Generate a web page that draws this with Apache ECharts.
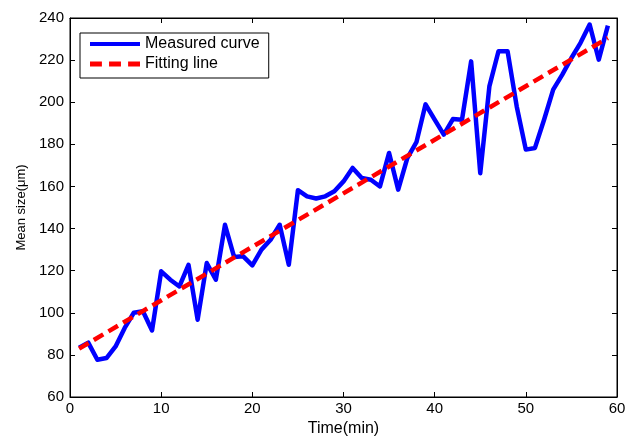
<!DOCTYPE html>
<html>
<head>
<meta charset="utf-8">
<script src="https://cdn.jsdelivr.net/npm/echarts@6/dist/echarts.min.js"></script>
<style>
  html, body { margin: 0; padding: 0; background: #fff; }
  #chart { width: 626px; height: 436px; }
</style>
</head>
<body>
<div id="chart"></div>
<script>
// time in minutes
const times = [1, 2, 3, 4, 5, 6, 7, 8, 9, 10, 11, 12, 13, 14, 15, 16, 17, 18, 19, 20,
  21, 22, 23, 24, 25, 26, 27, 28, 29, 30, 31, 32, 33, 34, 35, 36, 37, 38, 39, 40,
  41, 42, 43, 44, 45, 46, 47, 48, 49, 50, 51, 52, 53, 54, 55, 56, 57, 58, 59]
// measured mean size (um)
const measured = [83.4, 85.8, 77.7, 78.5, 84, 92.8, 100, 100.7, 91.6, 119.7,
  115.7, 112.5, 122.8, 96.7, 123.6, 115.7, 141.8, 126.5, 126.8, 122.5,
  130, 134.7, 141.8, 122.8, 158.2, 155.3, 154.3, 155.3, 157.7, 162.4,
  168.8, 164, 163.2, 160, 175.9, 158.5, 173.5, 181, 199, 191.7,
  184.6, 192, 191.7, 219.4, 166.3, 207.5, 224.2, 224.2, 198, 177.5,
  178.3, 191.7, 206, 213.1, 221, 228.2, 236.9, 220.2, 236.4]
// fitting line end points
const fitTimes = [1, 59]
const fitValues = [83, 230.5]

const xTicks = [0, 10, 20, 30, 40, 50, 60]
const yTicks = [60, 80, 100, 120, 140, 160, 180, 200, 220, 240]

const chart = echarts.init(document.getElementById('chart'))

const font = 'Liberation Sans, Arial, sans-serif'
const axisCommon = {
  type: 'value',
  splitLine: { show: false },
  axisLine: { show: true, onZero: false, lineStyle: { color: '#000', width: 1 } },
  axisTick: { show: true, inside: true, length: 5, lineStyle: { color: '#000' } }
}

const option = {
  animation: false,
  backgroundColor: '#fff',
  grid: {
    left: 70, right: 9, top: 18, bottom: 39,
    outerBoundsMode: 'none',
    show: true, borderColor: '#000', borderWidth: 1
  },
  legend: {
    left: 80, top: 33,
    orient: 'vertical',
    itemWidth: 50, itemHeight: 10, itemGap: 4,
    padding: [3, 9, 6, 10],
    borderColor: '#000', borderWidth: 1, borderRadius: 0,
    backgroundColor: '#fff',
    textStyle: { fontFamily: font, fontSize: 16, color: '#000' },
    data: [
      { name: 'Measured curve', icon: 'path://M0,0 L50,0 L50,4 L0,4 Z' },
      { name: 'Fitting line', icon: 'path://M0,0 L10,0 L10,4 L0,4 Z M16,0 L26,0 L26,4 L16,4 Z M32,0 L42,0 L42,4 L32,4 Z' }
    ]
  },
  xAxis: [
    Object.assign({}, axisCommon, {
      min: xTicks[0], max: xTicks[xTicks.length - 1], interval: 10,
      position: 'bottom',
      name: 'Time(min)', nameLocation: 'middle', nameGap: 21,
      nameTextStyle: { fontFamily: font, fontSize: 16, color: '#000' },
      axisLabel: { fontFamily: font, fontSize: 15, color: '#000', margin: 4 }
    }),
    Object.assign({}, axisCommon, {
      min: xTicks[0], max: xTicks[xTicks.length - 1], interval: 10,
      position: 'top',
      axisLabel: { show: false }
    })
  ],
  yAxis: [
    Object.assign({}, axisCommon, {
      min: yTicks[0], max: yTicks[yTicks.length - 1], interval: 20,
      position: 'left',
      name: 'Mean size(\u03bcm)', nameLocation: 'middle', nameGap: 42,
      nameTextStyle: { fontFamily: font, fontSize: 13, color: '#000' },
      axisLabel: { fontFamily: font, fontSize: 15, color: '#000', margin: 6 }
    }),
    Object.assign({}, axisCommon, {
      min: yTicks[0], max: yTicks[yTicks.length - 1], interval: 20,
      position: 'right',
      axisLabel: { show: false }
    })
  ],
  series: [
    {
      name: 'Measured curve',
      type: 'line',
      data: times.map((t, i) => [t, measured[i]]),
      showSymbol: false,
      color: '#0000ff',
      lineStyle: { color: '#0000ff', width: 4.5, join: 'round' },
      z: 2
    },
    {
      name: 'Fitting line',
      type: 'line',
      data: fitTimes.map((t, i) => [t, fitValues[i]]),
      showSymbol: false,
      color: '#ff0000',
      lineStyle: { color: '#ff0000', width: 4.5, type: [11, 6] },
      z: 3
    }
  ]
}

chart.setOption(option)
</script>
</body>
</html>
